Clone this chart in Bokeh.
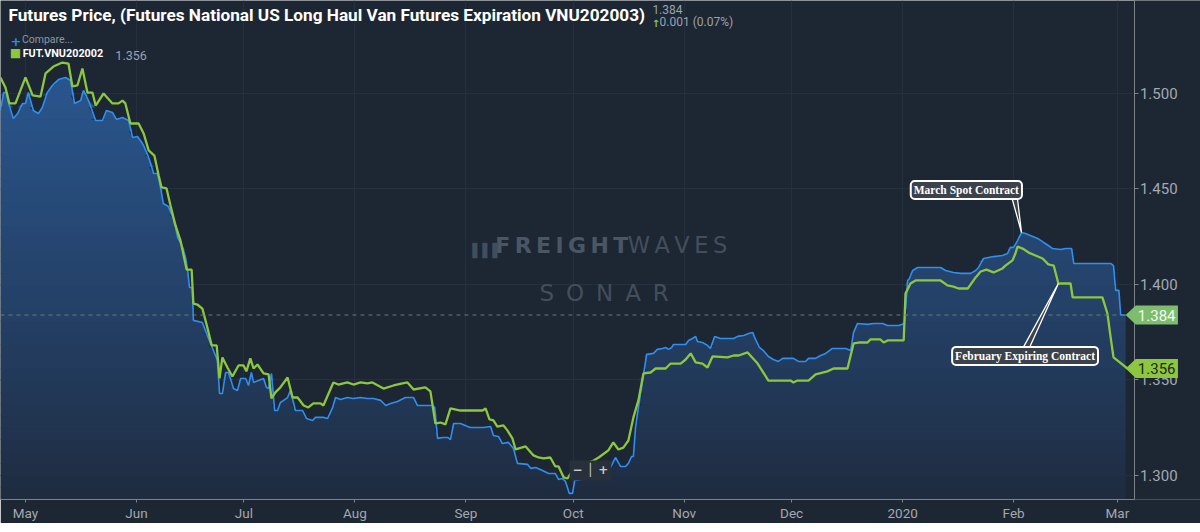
import numpy as np
import pandas as pd
from bokeh.plotting import figure
from bokeh.models import (FixedTicker, Label, PolyAnnotation, BoxAnnotation, Grid,
                          LinearAxis, PrintfTickFormatter, Range1d)
from bokeh.embed import file_html
from bokeh.resources import INLINE

BASE = pd.Timestamp("2019-05-01")

# ---- data: days since 2019-05-01 and prices ----
blue_days = [
    -7.0, -6.1, -5.3, -4.7, -3.4, -2.2, -0.8, 0.0, 0.8, 2.2,
    3.6, 4.7, 6.1, 7.5, 9.2, 11.2, 12.6, 13.7, 15.4, 16.2,
    17.6, 19.6, 21.5, 22.6, 24.3, 25.4, 27.1, 28.8, 29.9, 31.3,
    32.1, 33.0, 34.4, 35.8, 36.9, 37.7, 38.5, 39.9, 41.3, 42.5,
    43.9, 44.7, 45.3, 45.8, 46.6, 46.9, 49.4, 50.8, 52.5, 53.6,
    54.2, 55.0, 55.9, 56.7, 58.1, 59.2, 60.1, 61.5, 62.3, 63.1,
    63.7, 65.1, 66.5, 67.3, 67.9, 68.7, 69.6, 70.4, 71.2, 72.1,
    73.2, 74.0, 75.4, 77.4, 78.5, 80.2, 81.0, 83.2, 84.4, 85.8,
    86.6, 88.0, 89.9, 91.6, 93.6, 95.5, 97.2, 99.2, 100.6, 102.0,
    103.9, 106.1, 108.4, 109.5, 113.7, 114.3, 115.1, 116.5, 117.9, 118.7,
    119.6, 121.5, 123.5, 124.3, 127.9, 129.9, 130.7, 132.1, 133.2, 134.9,
    136.3, 137.4, 140.2, 141.1, 142.5, 144.4, 146.1, 148.0, 148.9, 150.0,
    150.8, 151.9, 152.8, 153.4, 155.1, 157.0, 159.3, 161.5, 162.6, 164.8,
    166.2, 167.6, 168.4, 169.3, 169.8, 170.4, 171.2, 172.6, 173.5, 175.4,
    176.5, 177.9, 178.8, 179.6, 180.5, 181.0, 184.4, 185.2, 186.3, 187.2,
    187.7, 189.1, 190.5, 191.3, 192.5, 194.1, 197.8, 198.9, 200.6, 202.0,
    203.1, 203.9, 205.0, 206.1, 207.5, 208.9, 210.3, 211.5, 214.5, 215.9,
    217.9, 218.7, 220.7, 222.1, 223.5, 225.4, 229.1, 230.5, 231.3, 232.4,
    235.2, 236.9, 239.4, 240.8, 243.9, 245.5, 246.4, 246.9, 247.8, 249.2,
    255.6, 257.0, 259.2, 261.2, 264.0, 265.4, 266.2, 267.6, 269.0, 270.4,
    272.9, 274.3, 275.1, 276.0, 277.1, 278.2, 279.3, 280.7, 282.7, 284.4,
    285.7, 286.9, 289.1, 290.5, 292.2, 292.8, 303.1, 303.9, 304.5, 305.4,
    305.9, 307.3,
]
blue_vals = [
    1.4911, 1.5005, 1.5005, 1.4948, 1.4869, 1.4895, 1.4948, 1.4948, 1.5005, 1.4911,
    1.4895, 1.4927, 1.5005, 1.5042, 1.5073, 1.5084, 1.5068, 1.4948, 1.4963, 1.5016,
    1.4963, 1.4859, 1.4859, 1.4911, 1.4901, 1.4864, 1.4874, 1.4859, 1.4770, 1.4775,
    1.4754, 1.4728, 1.4665, 1.4581, 1.4581, 1.4508, 1.4424, 1.4408, 1.4346, 1.4246,
    1.4194, 1.4141, 1.4073, 1.3984, 1.3984, 1.3812, 1.3801, 1.3733, 1.3654, 1.3602,
    1.3429, 1.3429, 1.3539, 1.3539, 1.3455, 1.3445, 1.3508, 1.3508, 1.3471, 1.3539,
    1.3487, 1.3497, 1.3508, 1.3461, 1.3455, 1.3534, 1.3340, 1.3340, 1.3382, 1.3393,
    1.3408, 1.3445, 1.3340, 1.3340, 1.3298, 1.3288, 1.3304, 1.3304, 1.3298, 1.3356,
    1.3408, 1.3398, 1.3408, 1.3403, 1.3408, 1.3403, 1.3403, 1.3393, 1.3366, 1.3377,
    1.3387, 1.3408, 1.3408, 1.3366, 1.3366, 1.3356, 1.3194, 1.3199, 1.3199, 1.3188,
    1.3272, 1.3272, 1.3256, 1.3251, 1.3251, 1.3256, 1.3209, 1.3204, 1.3167, 1.3173,
    1.3141, 1.3063, 1.3058, 1.3037, 1.3042, 1.3026, 1.3010, 1.3010, 1.2979, 1.2984,
    1.2969, 1.2906, 1.2906, 1.2974, 1.2979, 1.2984, 1.2995, 1.3005, 1.3010, 1.3094,
    1.3047, 1.3047, 1.3063, 1.3099, 1.3099, 1.3251, 1.3356, 1.3524, 1.3634, 1.3639,
    1.3660, 1.3665, 1.3670, 1.3660, 1.3670, 1.3686, 1.3686, 1.3707, 1.3717, 1.3728,
    1.3701, 1.3696, 1.3681, 1.3665, 1.3728, 1.3717, 1.3717, 1.3728, 1.3733, 1.3743,
    1.3749, 1.3712, 1.3670, 1.3654, 1.3623, 1.3607, 1.3597, 1.3613, 1.3613, 1.3597,
    1.3597, 1.3613, 1.3613, 1.3628, 1.3639, 1.3665, 1.3665, 1.3654, 1.3749, 1.3796,
    1.3791, 1.3796, 1.3796, 1.3785, 1.3785, 1.3796, 1.4021, 1.4031, 1.4073, 1.4089,
    1.4089, 1.4073, 1.4063, 1.4058, 1.4058, 1.4073, 1.4089, 1.4136, 1.4141, 1.4146,
    1.4152, 1.4162, 1.4194, 1.4194, 1.4230, 1.4272, 1.4267, 1.4256, 1.4241, 1.4220,
    1.4204, 1.4188, 1.4183, 1.4188, 1.4188, 1.4110, 1.4110, 1.4099, 1.3969, 1.3969,
    1.3840, 1.3840,
]
green_days = [
    -7.0, -5.6, -4.5, -2.8, 0.0, 2.0, 4.2, 5.6, 7.8, 10.3,
    12.0, 13.1, 14.5, 15.9, 17.3, 18.7, 19.6, 21.8, 24.3, 26.0,
    27.1, 27.9, 29.3, 31.6, 33.0, 34.4, 36.0, 37.2, 38.0, 39.4,
    40.5, 41.9, 43.3, 45.0, 46.4, 46.9, 48.0, 49.4, 50.8, 52.0,
    53.4, 54.2, 55.0, 56.4, 57.8, 59.5, 60.9, 61.7, 62.8, 63.7,
    64.8, 66.5, 67.9, 68.7, 69.8, 71.2, 73.2, 74.6, 76.0, 77.7,
    79.0, 80.4, 82.4, 83.2, 86.0, 87.4, 89.9, 91.6, 93.6, 95.5,
    96.9, 100.0, 102.8, 105.3, 106.7, 108.4, 111.7, 113.1, 114.5, 115.9,
    117.3, 118.7, 121.5, 127.7, 128.5, 129.6, 130.7, 131.8, 133.5, 134.6,
    136.0, 136.9, 139.7, 141.9, 143.3, 144.7, 146.6, 148.0, 148.9, 150.3,
    151.4, 152.8, 155.1, 157.3, 158.7, 160.1, 162.0, 162.8, 164.2, 165.6,
    167.0, 168.4, 169.8, 171.2, 172.6, 174.6, 176.0, 178.8, 180.2, 183.0,
    184.4, 185.8, 187.2, 189.1, 190.5, 191.9, 196.1, 197.8, 199.2, 201.7,
    204.5, 207.5, 213.7, 214.5, 215.6, 218.7, 220.7, 224.0, 225.7, 229.6,
    231.3, 232.7, 235.2, 236.0, 238.8, 239.7, 240.8, 245.3, 245.8, 247.2,
    248.6, 255.6, 257.5, 259.2, 260.6, 263.2, 265.4, 266.8, 268.4, 270.4,
    272.9, 273.7, 275.7, 276.5, 277.1, 278.5, 280.2, 282.1, 284.1, 285.7,
    287.2, 288.5, 291.9, 292.5, 300.8, 302.2, 303.1, 303.9, 307.8,
]
green_vals = [
    1.5084, 1.5031, 1.4948, 1.4948, 1.5084, 1.4990, 1.4984, 1.5105, 1.5141, 1.5162,
    1.5157, 1.5037, 1.5042, 1.5131, 1.5005, 1.5005, 1.4937, 1.5000, 1.4948, 1.4948,
    1.4963, 1.4948, 1.4843, 1.4843, 1.4791, 1.4702, 1.4675, 1.4571, 1.4508, 1.4503,
    1.4414, 1.4309, 1.4230, 1.4078, 1.4078, 1.3900, 1.3895, 1.3874, 1.3775, 1.3681,
    1.3681, 1.3508, 1.3618, 1.3565, 1.3518, 1.3576, 1.3576, 1.3545, 1.3613, 1.3560,
    1.3581, 1.3534, 1.3529, 1.3403, 1.3435, 1.3461, 1.3513, 1.3408, 1.3408, 1.3366,
    1.3356, 1.3377, 1.3377, 1.3366, 1.3487, 1.3476, 1.3487, 1.3476, 1.3487, 1.3482,
    1.3487, 1.3455, 1.3471, 1.3482, 1.3487, 1.3450, 1.3461, 1.3440, 1.3272, 1.3277,
    1.3267, 1.3351, 1.3340, 1.3340, 1.3351, 1.3293, 1.3288, 1.3256, 1.3262, 1.3236,
    1.3194, 1.3136, 1.3152, 1.3105, 1.3094, 1.3089, 1.3094, 1.3047, 1.3047, 1.2990,
    1.2984, 1.3026, 1.3052, 1.3068, 1.3078, 1.3094, 1.3120, 1.3131, 1.3173, 1.3136,
    1.3146, 1.3183, 1.3304, 1.3393, 1.3534, 1.3539, 1.3560, 1.3560, 1.3586, 1.3586,
    1.3607, 1.3639, 1.3592, 1.3586, 1.3565, 1.3623, 1.3618, 1.3628, 1.3628, 1.3644,
    1.3586, 1.3497, 1.3497, 1.3487, 1.3497, 1.3497, 1.3529, 1.3545, 1.3560, 1.3560,
    1.3691, 1.3696, 1.3696, 1.3712, 1.3712, 1.3696, 1.3707, 1.3707, 1.3953, 1.4005,
    1.4021, 1.4021, 1.3995, 1.3989, 1.3979, 1.3979, 1.4037, 1.4068, 1.4078, 1.4063,
    1.4084, 1.4099, 1.4126, 1.4162, 1.4199, 1.4188, 1.4167, 1.4152, 1.4136, 1.4105,
    1.4099, 1.4005, 1.4005, 1.3932, 1.3932, 1.3848, 1.3723, 1.3618, 1.3560,
]

month_ticks = ["2019-05-01", "2019-06-01", "2019-07-01", "2019-08-01", "2019-09-01",
               "2019-10-01", "2019-11-01", "2019-12-01", "2020-01-01", "2020-02-01",
               "2020-03-01"]
month_labels = ["May", "Jun", "Jul", "Aug", "Sep", "Oct", "Nov", "Dec", "2020", "Feb", "Mar"]
y_ticks = [1.300, 1.350, 1.400, 1.450, 1.500]

title_text = "Futures Price, (Futures National US Long Haul Van Futures Expiration VNU202003)"
last_blue = 1.384
last_green = 1.356
change_text = "0.001 (0.07%)"
compare_series = "FUT.VNU202002"

BG = "#1d2633"
BLUE = "#2f8ff0"
GREEN = "#8dc63f"
GRAY = "#a3a9b0"


def to_dt(days):
    return BASE + pd.to_timedelta(np.asarray(days, dtype=float), unit="D")


def ms(d):
    return (BASE + pd.Timedelta(days=d)).value / 1e6


bx = to_dt(blue_days)
bv = np.array(blue_vals)
gx = to_dt(green_days)
gv = np.array(green_vals)

y_lo, y_hi = 1.2874, 1.5487
x_lo, x_axis_pos, x_hi = -6.98, 309.8, 328.2

p = figure(frame_width=1200, frame_height=499, x_axis_type="datetime",
           y_axis_location=None, output_backend="svg", toolbar_location=None,
           x_range=Range1d(ms(x_lo), ms(x_hi)), y_range=Range1d(y_lo, y_hi),
           background_fill_color=BG, border_fill_color=BG,
           min_border_left=0, min_border_top=0, min_border_bottom=8,
           min_border_right=0)
p.outline_line_color = None
for g in p.ygrid:
    g.visible = False

# horizontal grid + cover of the area right of the price axis
p.add_layout(Grid(dimension=1, ticker=FixedTicker(ticks=y_ticks),
                  grid_line_color="#25303e"))
p.add_layout(BoxAnnotation(left=ms(x_axis_pos), fill_color=BG, fill_alpha=1.0,
                           line_color=None, level="underlay"))

# gradient area under the March contract line (stacked horizontal bands)
edges = np.linspace(y_lo, 1.53, 40)
c_bot = np.array([31, 43, 62])
c_top = np.array([42, 86, 142])
for lo, hi in zip(edges[:-1], edges[1:]):
    t = ((lo + hi) / 2 - y_lo) / (1.51 - y_lo)
    t = min(max(t, 0.0), 1.0) ** 0.85
    c = (c_bot + (c_top - c_bot) * t).astype(int)
    col = "#%02x%02x%02x" % tuple(c)
    p.varea(x=bx, y1=np.full(len(bv), lo), y2=np.clip(bv, lo, hi + 0.0004),
            fill_color=col, fill_alpha=1.0)

p.line(bx, bv, line_color=BLUE, line_width=1.6)
p.line(gx, gv, line_color=GREEN, line_width=2.3)

# dashed last-price line
p.line([bx[0], bx[-1]], [last_blue, last_blue], line_color="#5b807a",
       line_dash="4 4", line_width=1)

# x axis
tick_ms = [pd.Timestamp(t).value / 1e6 for t in month_ticks]
p.xaxis.ticker = FixedTicker(ticks=tick_ms)
p.xaxis.major_label_overrides = {t: lab for t, lab in zip(tick_ms, month_labels)}
p.xaxis.bounds = (ms(x_lo), ms(x_axis_pos))
p.xgrid.ticker = FixedTicker(ticks=tick_ms)
p.xgrid.grid_line_color = "#25303e"

# price axis drawn at the right edge of the data area, labels to its right
yax = LinearAxis(ticker=FixedTicker(ticks=y_ticks),
                 formatter=PrintfTickFormatter(format="%.3f"),
                 fixed_location=ms(x_axis_pos))
yax.major_tick_in = 4
yax.major_tick_out = 0
yax.major_label_standoff = -43
yax.major_label_text_font_size = "15px"
p.add_layout(yax, "left")

for ax in (p.xaxis[0], yax):
    ax.axis_line_color = "#7c838b"
    ax.major_tick_line_color = "#7c838b"
    ax.minor_tick_line_color = None
    ax.major_label_text_color = GRAY
    ax.major_label_text_font = "Roboto"
p.xaxis.major_tick_in = 0
p.xaxis.major_tick_out = 3
p.xaxis.major_label_text_font_size = "13.5px"
p.xaxis.major_label_standoff = 2

# watermark
p.add_layout(Label(x=ms(131.2), y=1.4136, text="F\u2009R\u2009E\u2009I\u2009G\u2009H\u2009T",
                   text_font="DejaVu Sans", text_font_style="bold",
                   text_font_size="22px", text_color="#4a5664"))
p.add_layout(Label(x=ms(168.2), y=1.4136, text="W\u2009A\u2009V\u2009E\u2009S",
                   text_font="DejaVu Sans", text_font_size="22.5px",
                   text_color="#434e5c"))
p.add_layout(Label(x=ms(143.6), y=1.3885, text="S\u2009 O\u2009 N\u2009 A\u2009 R",
                   text_font="DejaVu Sans", text_font_size="23px",
                   text_color="#434e5c"))
p.add_layout(Label(x=ms(123.4), y=1.4136, text="\u2590\u2590\u2590",
                   text_font="DejaVu Sans", text_font_size="13px",
                   text_color="#434e5c"))

# header texts
p.add_layout(Label(x=ms(-4.75), y=1.5361, text=title_text,
                   text_font="Roboto", text_font_style="bold",
                   text_font_size="17.2px", text_color="#ffffff"))
p.add_layout(Label(x=ms(175.1), y=1.5414, text="%.3f" % last_blue,
                   text_font="Roboto", text_font_size="12px", text_color="#9aa3ad"))
p.add_layout(Label(x=ms(174.9), y=1.5340, text="\u2191", text_font_style="bold",
                   text_font="DejaVu Sans", text_font_size="10px", text_color=GREEN))
p.add_layout(Label(x=ms(177.1), y=1.5340, text=change_text,
                   text_font="Roboto", text_font_size="12px", text_color="#9aa3ad"))
p.add_layout(Label(x=ms(-4.2), y=1.5251, text="+", text_font_style="bold",
                   text_font="DejaVu Sans", text_font_size="13px", text_color="#2b8ce6"))
p.add_layout(Label(x=ms(-1.0), y=1.5251, text="Compare...",
                   text_font="Roboto", text_font_size="10.5px", text_color="#8d96a0"))
p.add_layout(Label(x=ms(-4.4), y=1.5176, text="\u25a0",
                   text_font="DejaVu Sans", text_font_size="12px", text_color=GREEN))
p.add_layout(Label(x=ms(-0.8), y=1.5178, text=compare_series,
                   text_font="Roboto", text_font_style="bold",
                   text_font_size="10.8px", text_color="#ffffff"))
p.add_layout(Label(x=ms(25.1), y=1.5178, text="%.3f" % last_green,
                   text_font="Roboto", text_font_size="12.5px", text_color="#9aa3ad"))

# zoom widget
p.add_layout(Label(x=ms(157.8), y=1.3026, text="\u2212 \u2502 +", text_align="center",
                   text_baseline="middle", text_font="DejaVu Sans",
                   text_font_style="bold", text_font_size="12px", text_color="#c9ced4",
                   background_fill_color="#28303b", padding=3))

# callouts (pointers to the data points)
peak_i = int(np.argmax(bv[150:])) + 150
p.patch([ms(275.4), ms(277.0), ms(blue_days[peak_i])],
        [1.4462, 1.4462, blue_vals[peak_i]],
        fill_color="#3b424c", line_color="#ffffff", line_width=1.3)
p.patch([ms(278.4), ms(280.2), ms(288.5)],
        [1.3660, 1.3660, 1.4005],
        fill_color="#3b424c", line_color="#ffffff", line_width=1.3)
for cx, cy, txt in [(262.8, 1.4495, "March Spot Contract"),
                    (279.2, 1.3626, "February Expiring Contract")]:
    p.add_layout(Label(x=ms(cx), y=cy, text=txt, text_align="center",
                       text_baseline="middle", text_font="Liberation Serif",
                       text_font_style="bold", text_font_size="11.5px",
                       text_color="#ffffff", background_fill_color="#3b424c",
                       border_line_color="#ffffff", border_line_width=2,
                       padding=3, border_radius=4))

# price tags on the price axis
h = 0.00497
for val, fill, tcol in [(last_blue, "#7dbd6c", "#f4f7f2"), (last_green, GREEN, "#1f2a22")]:
    p.add_layout(PolyAnnotation(xs=[ms(307.3), ms(310.1), ms(321.9), ms(321.9), ms(310.1)],
                                ys=[val, val + h, val + h, val - h, val - h],
                                xs_units="data", ys_units="data",
                                fill_color=fill, fill_alpha=1.0, line_color=None))
    p.add_layout(Label(x=ms(310.7), y=val, text="%.3f" % val, text_baseline="middle",
                       text_font="Roboto", text_font_size="15px", text_color=tcol))

html = file_html(p, INLINE)
html = html.replace("<body>", '<body style="background-color:#161d26;overflow:hidden;">', 1)
open("out.html", "w").write(html)
